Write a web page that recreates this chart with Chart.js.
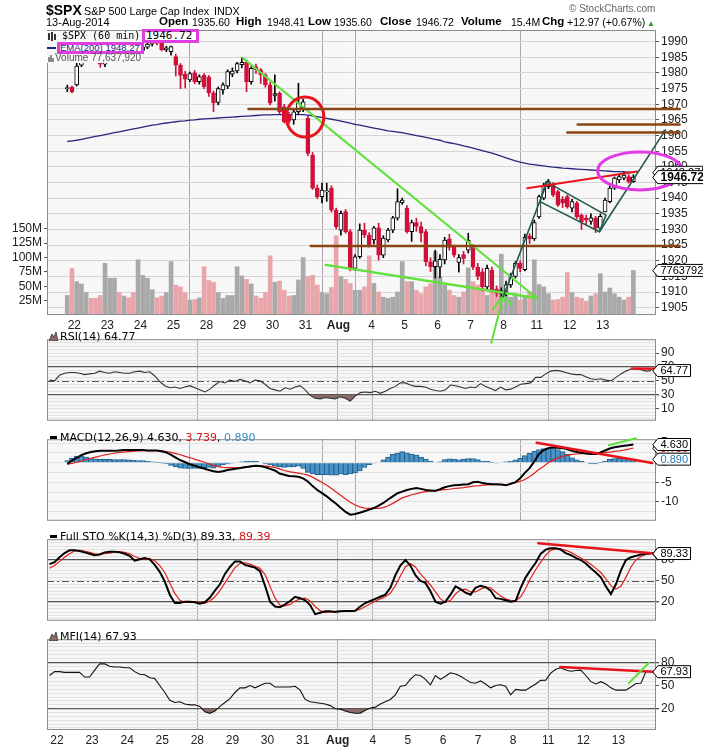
<!DOCTYPE html>
<html><head><meta charset="utf-8">
<script src="https://cdn.jsdelivr.net/npm/chart.js@4.4.1/dist/chart.umd.min.js"></script>
<style>
html,body{margin:0;padding:0;background:#fff;width:703px;height:748px;overflow:hidden;}
canvas{position:absolute;left:0;}
.t{position:absolute;white-space:nowrap;font-family:Arial,"Liberation Sans",sans-serif;line-height:11px;font-size:10.5px;color:#000;}
.b{font-weight:bold;font-size:11.5px;}
.d{position:absolute;white-space:nowrap;font-family:"DejaVu Sans",sans-serif;font-size:11px;line-height:11px;color:#000;}
</style></head><body>
<canvas id="cRsi" width="703" height="100" style="top:330px"></canvas>
<canvas id="cMacd" width="703" height="100" style="top:430px"></canvas>
<canvas id="cSto" width="703" height="100" style="top:530px"></canvas>
<canvas id="cMfi" width="703" height="118" style="top:630px"></canvas>
<canvas id="cMain" width="703" height="345" style="top:0px"></canvas>

<div class="t" style="left:46px;top:3px;font-size:14px;line-height:14px;font-weight:bold;">$SPX</div>
<div class="t" style="left:84px;top:6px;font-size:10.8px;">S&amp;P 500 Large Cap Index</div>
<div class="t" style="left:214px;top:6px;font-size:10.8px;">INDX</div>
<div class="t" style="left:569px;top:3px;font-size:10px;color:#666;">© StockCharts.com</div>
<div class="t" style="left:46px;top:17px;font-size:11px;">13-Aug-2014</div>
<div class="t b" style="left:159px;top:16px;">Open</div><div class="t" style="left:192px;top:17px;">1935.60</div>
<div class="t b" style="left:236px;top:16px;">High</div><div class="t" style="left:267px;top:17px;">1948.41</div>
<div class="t b" style="left:308px;top:16px;">Low</div><div class="t" style="left:334px;top:17px;">1935.60</div>
<div class="t b" style="left:380px;top:16px;">Close</div><div class="t" style="left:416px;top:17px;">1946.72</div>
<div class="t b" style="left:461px;top:16px;">Volume</div><div class="t" style="left:511px;top:17px;">15.4M</div>
<div class="t b" style="left:542px;top:16px;">Chg</div><div class="t" style="left:567px;top:17px;">+12.97 (+0.67%)</div>
<div class="t" style="left:647px;top:18px;font-size:8px;color:#2a9a2a;">▲</div>

<!-- main legend -->
<div style="position:absolute;left:47px;top:31px;width:96px;height:32px;background:#f7f7f7;"></div>
<svg style="position:absolute;left:48px;top:32px" width="9" height="9"><path d="M1 1v7M4 0v9M7 2v6" stroke="#000" stroke-width="1.6"/></svg>
<div class="t" style="left:62px;top:31px;font-family:'DejaVu Sans Mono',monospace;font-size:10px;line-height:10px;">$SPX (60 min)</div>
<div style="position:absolute;left:142px;top:29px;width:57px;height:14px;box-sizing:border-box;border:3px solid #e13ee1;background:#fff;"></div>
<div class="t" style="left:146px;top:31px;font-family:'DejaVu Sans Mono',monospace;font-size:11px;line-height:10px;">1946.72</div>
<div style="position:absolute;left:47px;top:47px;width:9px;height:2px;background:#22227a;"></div>
<div style="position:absolute;left:57px;top:42px;width:87px;height:12px;box-sizing:border-box;border:3px solid #e13ee1;background:#fff;"></div>
<div class="t" style="left:60px;top:43px;font-size:9.5px;line-height:10px;color:#22227a;">EMA(200) 1948.27</div>
<svg style="position:absolute;left:48px;top:54px" width="6" height="8"><path d="M1 3v5M3 1v7M5 4v4" stroke="#666" stroke-width="1.5"/></svg>
<div class="t" style="left:55px;top:53px;font-size:10px;line-height:10px;color:#555;">Volume 77,637,920</div>

<!-- panel legends -->
<svg style="position:absolute;left:49px;top:332px" width="9" height="9"><path d="M0 9L3 2L5 5L7 0L9 9Z" fill="#8c6a66" stroke="#333" stroke-width="0.8"/></svg>
<div class="d" style="left:60px;top:331px;">RSI(14) 64.77</div>
<div style="position:absolute;left:50px;top:436px;width:7px;height:3px;background:#000;"></div>
<div class="d" style="left:60px;top:432px;">MACD(12,26,9) 4.630, <span style="color:#d8141b">3.739</span>, <span style="color:#3a8ac0">0.890</span></div>
<div style="position:absolute;left:50px;top:535px;width:7px;height:3px;background:#000;"></div>
<div class="d" style="left:60px;top:531px;">Full STO %K(14,3) %D(3) 89.33, <span style="color:#d8141b">89.39</span></div>
<svg style="position:absolute;left:49px;top:632px" width="9" height="9"><path d="M0 9L3 2L5 5L7 0L9 9Z" fill="#8c6a66" stroke="#333" stroke-width="0.8"/></svg>
<div class="d" style="left:60px;top:631px;">MFI(14) 67.93</div>

<script>
// ---------------- data ----------------
const dayLabels = ['22','23','24','25','28','29','30','31','Aug','4','5','6','7','8','11','12','13'];
const dayStartBar = [2,9,16,23,30,37,44,51,58,65,72,79,86,93,100,107,114];
const gridDays = ['28','Aug','4','11'];

const openP = [1975.0,1975.4,1976.2,1982.5,1984.6,1985.6,1985.0,1984.2,1982.8,
 1984.5,1986.0,1987.2,1986.4,1987.0,1986.6,1986.2,
 1987.2,1988.2,1989.2,1989.8,1989.5,1987.3,1986.8,
 1985.2,1982.5,1979.6,1977.8,1980.0,1977.2,1979.2,
 1978.7,1973.6,1970.6,1974.6,1975.8,1979.6,1980.6,
 1982.6,1983.4,1977.2,1982.0,1981.0,1979.4,1976.2,
 1972.8,1973.5,1969.2,1966.8,1965.0,1967.6,1968.8,
 1965.5,1953.8,1943.2,1940.5,1942.0,1943.2,1936.2,
 1929.8,1935.7,1929.3,1917.6,1921.3,1929.8,1928.2,
 1926.7,1930.5,1921.8,1926.7,1929.8,1933.6,1938.6,
 1936.8,1929.3,1932.2,1930.9,1929.3,1919.7,1918.1,
 1918.0,1920.3,1927.0,1924.3,1919.5,1922.0,1923.4,
 1924.5,1918.0,1916.5,1911.7,1917.0,1911.0,1909.6,
 1910.2,1912.3,1915.0,1919.3,1917.2,1928.0,1927.0,
 1934.0,1940.0,1943.7,1944.2,1942.1,1939.6,1940.5,
 1936.8,1938.4,1934.6,1933.6,1932.6,1933.7,1930.4,
 1935.6,1938.9,1943.2,1945.8,1946.4,1946.9,1945.3];
const highP = [1976.1,1975.8,1983.6,1985.5,1986.4,1986.2,1986.0,1984.6,1983.6,
 1986.5,1987.6,1987.8,1987.4,1987.9,1987.5,1987.3,
 1988.6,1989.8,1990.8,1991.0,1990.2,1988.5,1988.6,
 1986.0,1983.0,1980.5,1980.3,1980.8,1979.4,1979.8,
 1979.2,1974.2,1975.5,1976.8,1981.0,1981.6,1983.4,
 1984.8,1983.9,1982.0,1982.8,1981.4,1979.8,1977.0,
 1979.4,1974.0,1970.0,1967.4,1968.2,1976.7,1971.6,
 1966.2,1954.6,1944.2,1944.8,1944.8,1944.0,1936.8,
 1936.0,1936.4,1930.0,1922.0,1931.8,1932.0,1929.0,
 1931.0,1932.0,1928.0,1930.4,1934.2,1943.0,1940.0,
 1937.6,1933.0,1933.6,1932.4,1930.0,1921.0,1923.4,
 1922.0,1927.5,1928.5,1925.0,1922.0,1923.0,1928.8,
 1925.2,1919.2,1917.5,1918.6,1918.0,1912.0,1911.4,
 1913.5,1916.0,1919.8,1920.0,1928.5,1928.7,1933.0,
 1941.0,1944.8,1946.0,1945.0,1942.6,1940.5,1941.0,
 1939.6,1939.0,1935.0,1934.6,1935.0,1934.2,1935.0,
 1940.0,1944.0,1946.8,1947.5,1948.41,1947.5,1947.5];
const lowP = [1974.0,1973.6,1975.8,1982.0,1983.9,1984.4,1983.6,1981.8,1982.0,
 1984.0,1985.4,1985.9,1985.8,1986.2,1985.7,1985.9,
 1986.8,1987.7,1988.6,1988.9,1987.0,1986.8,1985.7,
 1979.0,1975.0,1975.2,1977.2,1976.5,1976.4,1975.0,
 1972.5,1967.6,1969.8,1973.2,1975.0,1978.8,1980.0,
 1981.6,1974.0,1976.4,1979.8,1976.6,1975.4,1969.8,
 1971.0,1967.0,1964.0,1963.8,1963.6,1966.8,1967.6,
 1953.6,1942.8,1939.8,1938.5,1939.0,1935.6,1930.2,
 1928.2,1928.8,1916.8,1916.9,1920.8,1927.4,1924.4,
 1925.4,1920.2,1921.0,1926.0,1929.0,1933.0,1938.0,
 1928.8,1926.2,1929.4,1926.0,1918.4,1916.6,1914.5,
 1914.6,1919.0,1923.4,1921.2,1916.4,1919.0,1922.5,
 1917.2,1914.0,1910.4,1911.0,1910.0,1908.6,1907.9,
 1908.8,1911.5,1914.5,1916.5,1916.8,1925.5,1926.5,
 1933.5,1939.5,1943.0,1940.5,1937.4,1937.0,1936.8,
 1935.6,1933.5,1930.0,1931.5,1931.6,1929.0,1929.6,
 1935.6,1938.5,1942.8,1945.0,1945.8,1944.8,1945.0];
const closeP = [1975.2,1974.0,1982.2,1984.6,1985.6,1985.0,1984.2,1982.8,1983.3,
 1986.0,1987.2,1986.4,1987.0,1986.6,1986.2,1987.0,
 1988.2,1989.2,1989.8,1989.5,1987.3,1988.0,1988.4,
 1982.5,1979.2,1978.0,1979.8,1977.2,1978.8,1975.6,
 1973.6,1970.4,1975.0,1976.2,1980.4,1980.6,1983.0,
 1983.4,1977.2,1981.5,1981.0,1979.4,1976.2,1970.3,
 1973.4,1967.6,1964.4,1964.6,1967.6,1970.4,1970.8,
 1954.3,1943.2,1940.5,1942.6,1942.3,1936.2,1930.9,
 1935.2,1929.3,1917.6,1921.3,1929.8,1928.2,1925.0,
 1930.5,1921.8,1927.3,1929.8,1933.7,1938.9,1939.4,
 1929.3,1932.2,1931.0,1928.8,1919.7,1918.1,1920.0,
 1920.5,1926.6,1924.3,1921.8,1921.0,1920.8,1926.6,
 1918.0,1915.0,1911.7,1917.6,1910.5,1909.7,1910.4,
 1912.3,1915.0,1919.2,1917.6,1927.5,1927.0,1932.2,
 1940.5,1944.2,1945.3,1941.0,1937.8,1938.4,1937.3,
 1938.9,1934.0,1932.5,1933.0,1933.7,1930.4,1934.2,
 1939.4,1943.2,1946.4,1946.9,1947.4,1945.3,1946.72];
const volumeM = [34,81,58,54,39,29,29,34,90,64,64,39,33,30,39,96,69,64,44,30,
 33,39,93,52,49,39,26,27,30,84,60,57,39,29,34,34,84,68,62,54,
 33,29,39,103,57,59,43,33,34,61,100,67,69,52,39,37,48,138,67,62,
 55,43,43,49,103,55,40,31,29,31,40,93,58,58,43,37,49,54,110,66,
 52,43,34,31,40,82,58,52,46,34,43,40,106,40,31,37,26,31,40,96,
 53,49,37,26,27,31,74,39,31,29,24,33,37,72,40,47,37,31,26,31,77.6];
const ema200 = [1958.1,1958.3,1958.5,1958.8,1959.1,1959.4,1959.7,1960.0,1960.3,1960.6,
 1960.9,1961.2,1961.5,1961.8,1962.1,1962.4,1962.7,1963.0,1963.3,1963.5,
 1963.8,1964.0,1964.2,1964.4,1964.6,1964.7,1964.9,1965.0,1965.2,1965.3,
 1965.4,1965.5,1965.6,1965.7,1965.8,1965.9,1966.0,1966.1,1966.2,1966.3,
 1966.4,1966.5,1966.6,1966.6,1966.7,1966.7,1966.7,1966.7,1966.7,1966.7,
 1966.7,1966.5,1966.3,1966.0,1965.8,1965.5,1965.2,1964.9,1964.6,1964.3,
 1964.0,1963.6,1963.3,1963.0,1962.7,1962.4,1962.1,1961.8,1961.5,1961.3,
 1961.1,1960.9,1960.6,1960.3,1960.0,1959.7,1959.4,1959.1,1958.8,1958.5,
 1958.0,1957.7,1957.4,1957.1,1956.7,1956.4,1956.0,1955.6,1955.2,1954.8,
 1954.4,1953.9,1953.4,1952.9,1952.4,1951.9,1951.5,1951.2,1950.9,1950.7,
 1950.5,1950.3,1950.1,1949.9,1949.8,1949.6,1949.5,1949.4,1949.3,1949.2,
 1949.1,1949.0,1948.9,1948.8,1948.7,1948.6,1948.5,1948.45,1948.4,1948.35,1948.27];
const rsi14 = [51,50,58,61,62,62,61,59,60,61,64,62,61,63,62,61,61,63,64,62,
 63,57,49,43,40,41,39,41,43,40,37,34,38,44,49,47,51,49,52,50,
 47,51,50,45,39,37,35,40,38,41,43,37,29,25,24,26,25,24,27,25,
 21,28,33,34,33,35,32,35,39,42,47,47,44,42,42,41,38,36,35,37,
 44,43,41,39,41,40,46,42,39,36,41,37,38,41,45,46,47,55,55,60,
 64,65,64,62,60,59,59,56,53,52,53,51,50,55,60,64,67,67,66,64,64.77];
const macdLine = [-0.3,0.5,1.2,1.9,2.4,2.7,2.9,3.0,3.0,3.0,
 3.0,3.1,3.2,3.2,3.2,3.2,3.2,3.1,3.1,3.1,
 2.9,2.6,2.0,1.3,0.6,0.1,-0.4,-0.8,-1.2,-1.5,
 -1.9,-2.2,-2.4,-2.2,-1.9,-1.7,-1.5,-1.3,-1.1,-0.9,
 -0.8,-0.9,-1.2,-1.6,-2.0,-2.8,-3.1,-3.4,-3.5,-3.6,
 -4.0,-4.8,-6.0,-7.0,-7.8,-8.6,-9.6,-10.5,-11.6,-12.6,
 -13.3,-13.1,-12.8,-12.4,-12.0,-11.6,-11.0,-10.3,-9.4,-8.6,
 -7.8,-7.4,-7.0,-6.7,-6.5,-6.7,-7.0,-7.1,-7.2,-6.8,
 -6.3,-6.0,-5.8,-5.7,-5.6,-5.5,-5.0,-4.9,-5.2,-5.4,
 -5.5,-5.5,-5.6,-5.8,-5.4,-5.0,-4.0,-2.6,-1.4,0.3,
 2.2,3.2,3.7,3.9,3.8,3.7,3.4,3.0,2.7,2.5,
 2.3,2.2,2.2,2.6,3.1,3.6,3.9,4.1,4.3,4.45,4.63];
const macdSignal = [-0.4,-0.2,0.1,0.4,0.8,1.1,1.4,1.7,2.0,2.2,
 2.4,2.6,2.7,2.8,2.9,3.0,3.05,3.05,3.05,3.05,
 3.0,2.8,2.6,2.3,2.0,1.6,1.25,0.9,0.5,0.1,
 -0.3,-0.7,-1.0,-1.2,-1.3,-1.3,-1.25,-1.2,-1.1,-1.0,
 -0.9,-0.85,-0.9,-1.0,-1.2,-1.6,-2.0,-2.3,-2.5,-2.7,
 -2.9,-3.2,-3.7,-4.4,-5.1,-5.8,-6.6,-7.5,-8.4,-9.3,
 -10.1,-10.8,-11.3,-11.6,-11.7,-11.7,-11.7,-11.5,-11.0,-10.4,
 -9.7,-9.0,-8.6,-8.2,-7.9,-7.6,-7.4,-7.3,-7.2,-7.0,
 -6.9,-6.8,-6.6,-6.5,-6.4,-6.2,-6.0,-5.9,-5.8,-5.7,
 -5.6,-5.6,-5.6,-5.7,-5.4,-5.1,-4.8,-4.3,-3.6,-2.7,
 -1.7,-0.9,0.0,0.7,1.2,1.6,1.9,2.1,2.2,2.3,
 2.4,2.4,2.45,2.5,2.55,2.7,2.85,3.0,3.2,3.45,3.739];
const macdHist = [0.55,1.1,1.65,1.65,1.4,1.1,1.0,0.9,0.85,0.85,
 0.75,0.75,0.75,0.7,0.6,0.55,0.5,0.35,0.2,0.07,
 -0.07,-0.3,-0.7,-1.1,-1.4,-1.5,-1.5,-1.5,-1.45,-1.3,
 -1.2,-1.4,-1.0,-0.55,-0.3,-0.15,0,0.2,0.35,0.4,
 0.3,0,-0.3,-0.55,-0.9,-1.1,-1.2,-1.1,-1.1,-0.9,
 -1.5,-2.5,-2.9,-3.1,-3.1,-3.1,-3.2,-3.2,-2.9,-3.05,
 -2.9,-2.6,-2.1,-1.25,-0.5,-0.15,0,0.7,1.4,2.1,
 2.5,2.8,2.5,2.15,1.95,1.4,0.9,0.4,0,0.2,
 0.75,1.0,0.9,0.7,0.9,1.05,1.05,0.75,0.4,0.3,
 0.07,-0.15,0,0.2,0.35,0.7,1.1,1.8,2.35,2.9,
 3.35,3.6,3.8,3.75,3.35,2.8,2.1,1.25,0.7,0.3,
 0,-0.3,-0.3,0.07,0.4,0.85,1.05,1.1,1.05,0.9,0.89];
const stoK = [74,77,84,90,94,94,93,91,89,87,88,91,92,92,91,89,86,79,81,83,
 81,73,63,49,30,18,18,20,20,19,17,19,26,36,45,60,70,78,78,73,
 71,69,64,43,20,13,12,16,21,27,25,22,15,2,4,6,6,5,6,6.5,
 6.5,7,13,18,21,24,27,30,40,58,72,80,72,58,50,47,35,20,17,20,
 30,42,38,33,30,40,43,41,36,25,24,22,20,21,40,55,66,76,89,95,
 97,97,95,90,87,83,80,75,68,62,55,42,31,45,65,80,84,86,88,89,89.33];
const stoD = [68,72,78,84,89,93,94,93,91,89,88,89,90,92,92,91,89,85,82,81,
 82,79,72,62,47,32,22,19,19,20,19,18,21,27,36,47,58,69,75,76,
 74,71,68,59,42,25,15,14,16,21,24,25,21,13,7,4,5,6,6,6,
 6.5,7,9,13,17,21,24,27,32,43,57,70,75,70,60,52,44,34,24,19,
 22,31,37,38,34,34,38,41,40,34,28,24,22,21,27,39,54,66,77,87,
 94,96,96,94,91,87,83,79,74,68,62,53,43,38,42,55,70,80,85,88,89.39];
const mfi14 = [63,68,68,67,67,67,67,61,61,70,78,78,75,74,74,73,73,68,64.5,64,
 60,59,50,41,31,28,29,26,25,25,23,16,14,17,23,28,33,41,47,47,
 50,47,50,53,53,48,48,48,48,49,44,32,29,28,27,26,24,20,19.4,17,
 15,14,14,18,21,22,26,29,32,38,49,50,58,64,63,58,51,63,58,62,
 66.5,65,62,58,54,53,56,52,47,50,51,49,38,45,44,44,48,52,56.7,57,
 66,71,73,70,68.5,69.5,70,63,55,52,55,52,47,44,44,44,48,52.7,53,68,67.93];

const priceTicks = [1905,1910,1915,1920,1925,1930,1935,1940,1945,1950,1955,1960,1965,1970,1975,1980,1985,1990];
const volTicks = [25,50,75,100,125,150];
const rsiTickLabels = [10,30,50,70,90];
const stoTickLabels = [20,50,80];
const macdTickLabels = [-10,-5,0,5];

// hand-drawn annotations (bar index, value)
const mainAnnotations = [
 {pts:[[37.2,1984.8],[99.5,1908.1]], color:'#5fe03a', w:2},
 {pts:[[54.8,1918.7],[99.5,1908.1]], color:'#5fe03a', w:2.5},
 {pts:[[89.9,1893.8],[92.4,1908.8]], color:'#5fe03a', w:2},
 {pts:[[90.1,1904.3],[92.4,1908.8],[94.1,1905.9]], color:'#5fe03a', w:2},
 {ellipse:true, x:50.4, y:1965.9, rx:3.99, ry:6.4, color:'#e8141b', w:3},
 {pts:[[38.4,1968.5],[129.8,1968.5]], color:'#8b4513', w:2.5},
 {pts:[[108.2,1963.5],[129.8,1963.5]], color:'#8b4513', w:2.5},
 {pts:[[106.0,1961.0],[129.8,1961.0]], color:'#8b4513', w:2.5},
 {pts:[[51.6,1924.7],[129.8,1924.7]], color:'#8b4513', w:2.5},
 {pts:[[92.4,1908.5],[101.9,1945.8]], color:'#1f5a4c', w:1.6},
 {pts:[[101.5,1945.3],[114.2,1934.6],[112.8,1929.3],[100.2,1938.9],[101.5,1945.3]], color:'#1f5a4c', w:1.6},
 {pts:[[112.8,1929.3],[126.8,1961.8]], color:'#1f5a4c', w:1.6},
 {pts:[[97.5,1943.2],[120.8,1948.5]], color:'#e8141b', w:2},
 {ellipse:true, x:121.4, y:1948.7, rx:8.98, ry:6.07, color:'#e33be3', w:3}
];
const rsiAnnotations = [{pts:[[116.2,67.8],[121.6,67.3]], color:'#e8141b', w:2.5}];
const macdAnnotations = [
 {pts:[[99.5,5.1],[124.0,-0.1]], color:'#e8141b', w:2.5},
 {pts:[[114.8,4.45],[120.5,6.2]], color:'#5fe03a', w:2}
];
const stoAnnotations = [{pts:[[97.5,104.2],[122.0,88.6]], color:'#e8141b', w:2.5}];
const mfiAnnotations = [
 {pts:[[101.9,74.1],[123.4,67.0]], color:'#e8141b', w:2.5},
 {pts:[[115.6,53.3],[119.6,79.5]], color:'#5fe03a', w:2}
];

// ---------------- rendering ----------------
Chart.defaults.font.family = 'Arial, "Liberation Sans", sans-serif';
const idx = closeP.map((_, i) => i);
const isUp = i => closeP[i] >= openP[i];
const RED = '#d0103a';
const pts = arr => idx.map(i => ({x: i, y: arr[i]}));

const deco = {
  id: 'deco',
  beforeDraw(chart, args, o) {
    const {ctx, chartArea: a} = chart;
    ctx.save(); ctx.fillStyle = '#f7f7f7';
    ctx.fillRect(a.left, a.top, a.right - a.left, a.bottom - a.top); ctx.restore();
  },
  beforeDatasetsDraw(chart, args, o) {
    const {ctx, chartArea: a} = chart;
    (o.refs || []).forEach(r => {
      const y = Math.round(chart.scales.y.getPixelForValue(r.v)) + 0.5;
      ctx.save(); ctx.strokeStyle = r.color; ctx.lineWidth = r.w; ctx.setLineDash(r.dash || []);
      ctx.beginPath(); ctx.moveTo(a.left, y); ctx.lineTo(a.right, y); ctx.stroke(); ctx.restore();
    });
  },
  afterDraw(chart, args, o) {
    const {ctx, chartArea: a} = chart;
    const xs = chart.scales.x;
    ctx.save();
    ctx.strokeStyle = '#8c8c8c'; ctx.lineWidth = 1;
    ctx.strokeRect(a.left + 0.5, a.top + 0.5, a.right - a.left - 1, a.bottom - a.top - 1);
    (o.shapes || []).forEach(s => {
      const ys = chart.scales[s.axis || 'y'];
      ctx.strokeStyle = s.color; ctx.lineWidth = s.w; ctx.lineCap = 'round'; ctx.lineJoin = 'round';
      ctx.beginPath();
      if (s.ellipse) {
        const cx = xs.getPixelForValue(s.x), cy = ys.getPixelForValue(s.y);
        const rx = Math.abs(xs.getPixelForValue(s.x + s.rx) - cx), ry = Math.abs(ys.getPixelForValue(s.y + s.ry) - cy);
        ctx.ellipse(cx, cy, rx, ry, 0, 0, Math.PI * 2);
      } else {
        s.pts.forEach((p, k) => {
          const px = xs.getPixelForValue(p[0]), py = ys.getPixelForValue(p[1]);
          if (k) ctx.lineTo(px, py); else ctx.moveTo(px, py);
        });
      }
      ctx.stroke();
    });
    (o.tags || []).forEach(t => {
      const y = chart.scales[t.axis || 'y'].getPixelForValue(t.v);
      const x0 = a.right + 2;
      ctx.font = (t.bold ? 'bold 12px ' : '11px ') + 'Arial, "Liberation Sans", sans-serif';
      const w = ctx.measureText(t.text).width + 5, h = t.bold ? 13 : 12;
      ctx.beginPath();
      ctx.moveTo(x0 - 5, y); ctx.lineTo(x0, y - h / 2); ctx.lineTo(x0 + w, y - h / 2);
      ctx.lineTo(x0 + w, y + h / 2); ctx.lineTo(x0, y + h / 2); ctx.closePath();
      ctx.fillStyle = '#fff'; ctx.fill(); ctx.strokeStyle = '#000'; ctx.lineWidth = 1; ctx.stroke();
      ctx.fillStyle = t.color || '#000'; ctx.textBaseline = 'middle'; ctx.textAlign = 'left';
      ctx.fillText(t.text, x0 + 2.5, y + 0.5);
    });
    ctx.restore();
  }
};

function xScale(showLabels, h) {
  return {
    type: 'linear', min: -0.5, max: 121,
    afterBuildTicks: s => { s.ticks = dayStartBar.map(b => ({value: b - 0.5})); },
    ticks: {
      display: showLabels, autoSkip: false, maxRotation: 0, minRotation: 0, padding: 3, color: '#222',
      callback: (v, i) => dayLabels[i],
      font: c => ({size: 12, weight: dayLabels[c.index] === 'Aug' ? 'bold' : 'normal'})
    },
    grid: { drawTicks: false, color: c => gridDays.includes(dayLabels[c.index]) ? '#a9a9a9' : 'rgba(0,0,0,0)' },
    border: {display: false},
    afterFit: s => { s.height = h; }
  };
}
function oscY(min, max, gridVals, labels, dark) {
  return {
    type: 'linear', position: 'right', min: min, max: max,
    afterBuildTicks: s => { s.ticks = gridVals.map(v => ({value: v})); },
    ticks: { autoSkip: false, color: '#222', font: {size: 12}, padding: 2,
      callback: v => labels.includes(v) ? String(v) : '' },
    grid: {
      color: c => dark.includes(c.tick.value) ? '#555' : '#e2e2e2',
      lineWidth: c => dark.includes(c.tick.value) ? 1.3 : 1,
      tickLength: 3,
      tickColor: c => labels.includes(c.tick.value) ? '#555' : 'rgba(0,0,0,0)'
    },
    border: {display: false},
    afterFit: s => { s.width = 47; }
  };
}
const oscGrid = []; for (let v = -5; v <= 105; v += 5) oscGrid.push(v);
const base = { responsive: false, animation: false, events: [] };
const noLegend = { legend: {display: false}, tooltip: {enabled: false} };

// main price + volume
new Chart(document.getElementById('cMain'), {
  type: 'bar',
  data: { datasets: [
    { type: 'bar', data: idx.map(i => ({x: i, y: [openP[i], closeP[i]]})), yAxisID: 'y',
      backgroundColor: idx.map(i => isUp(i) ? '#ffffff' : RED),
      borderColor: idx.map(i => isUp(i) ? '#000' : RED),
      borderWidth: 1, borderSkipped: false, barThickness: 4, grouped: false, minBarLength: 1, order: 1 },
    { type: 'bar', data: idx.map(i => ({x: i, y: [lowP[i], highP[i]]})), yAxisID: 'y',
      backgroundColor: idx.map(i => isUp(i) ? '#000' : RED), borderWidth: 0,
      barThickness: 1, grouped: false, order: 2 },
    { type: 'line', data: pts(ema200), yAxisID: 'y', borderColor: '#27277c', borderWidth: 1.3,
      pointRadius: 0, tension: 0, order: 3 },
    { type: 'bar', data: pts(volumeM), yAxisID: 'yv',
      backgroundColor: idx.map(i => isUp(i) ? '#a9a9a9' : '#e9a6aa'), borderWidth: 0,
      barThickness: 4, grouped: false, order: 4 }
  ]},
  options: { ...base,
    layout: { padding: {top: 30, left: 0, right: 0, bottom: 0}, autoPadding: false },
    scales: {
      x: xScale(true, 30),
      y: { type: 'linear', position: 'right', min: 1902.7, max: 1993.7,
        afterBuildTicks: s => { s.ticks = priceTicks.map(v => ({value: v})); },
        ticks: { autoSkip: false, color: '#222', font: {size: 12}, padding: 2, callback: v => String(v) },
        grid: { color: '#d6d6d6', tickLength: 3, tickColor: '#555' },
        border: {display: false}, afterFit: s => { s.width = 47; } },
      yv: { type: 'linear', position: 'left', min: 0, max: 496,
        afterBuildTicks: s => { s.ticks = volTicks.map(v => ({value: v})); },
        ticks: { autoSkip: false, color: '#222', font: {size: 12}, padding: 2, callback: v => v + 'M' },
        grid: { drawOnChartArea: false, tickLength: 3, color: '#555' },
        border: {display: false}, afterFit: s => { s.width = 47; } }
    },
    plugins: { ...noLegend, deco: { shapes: mainAnnotations, tags: [
      {axis: 'y', v: ema200[120], text: ema200[120].toFixed(2)},
      {axis: 'y', v: closeP[120], text: closeP[120].toFixed(2), bold: true},
      {axis: 'yv', v: volumeM[120], text: '7763792'} ] } }
  },
  plugins: [deco]
});

// RSI
new Chart(document.getElementById('cRsi'), {
  type: 'line',
  data: { datasets: [{ data: pts(rsi14), borderColor: '#333', borderWidth: 1.1, pointRadius: 0, tension: 0,
    fill: { target: {value: 30}, above: 'rgba(0,0,0,0)', below: '#8c6a66' } }] },
  options: { ...base,
    layout: { padding: {left: 47, top: 0, right: 0, bottom: 0}, autoPadding: false },
    scales: { x: xScale(false, 0), y: oscY(-7.6, 110, oscGrid, rsiTickLabels, [30, 70]) },
    plugins: { ...noLegend, deco: { refs: [{v: 50, color: '#555', w: 1, dash: [7, 3, 2, 3]}],
      shapes: rsiAnnotations, tags: [{v: rsi14[120], text: rsi14[120].toFixed(2)}] } }
  },
  plugins: [deco]
});

// MACD
new Chart(document.getElementById('cMacd'), {
  type: 'bar',
  data: { datasets: [
    { type: 'line', data: pts(macdLine), borderColor: '#000', borderWidth: 2, pointRadius: 0, tension: 0, order: 1 },
    { type: 'line', data: pts(macdSignal), borderColor: '#e0201b', borderWidth: 1.2, pointRadius: 0, tension: 0, order: 2 },
    { type: 'bar', data: pts(macdHist), backgroundColor: '#4a93c6', borderColor: '#22618f', borderWidth: 1,
      barThickness: 5, grouped: false, order: 3 }
  ]},
  options: { ...base,
    layout: { padding: {left: 47, top: 0, right: 0, bottom: 0}, autoPadding: false },
    scales: { x: xScale(false, 0), y: oscY(-14.85, 5.98, [-12.5, -10, -7.5, -5, -2.5, 0, 2.5, 5], macdTickLabels, []) },
    plugins: { ...noLegend, deco: { shapes: macdAnnotations, tags: [
      {v: macdSignal[120], text: macdSignal[120].toFixed(3), color: '#d8141b'},
      {v: macdHist[120], text: macdHist[120].toFixed(3), color: '#2a7ab5'},
      {v: macdLine[120], text: macdLine[120].toFixed(3)} ] } }
  },
  plugins: [deco]
});

// Full STO
new Chart(document.getElementById('cSto'), {
  type: 'line',
  data: { datasets: [
    { data: pts(stoK), borderColor: '#000', borderWidth: 2, pointRadius: 0, tension: 0, order: 1 },
    { data: pts(stoD), borderColor: '#e0201b', borderWidth: 1.2, pointRadius: 0, tension: 0, order: 2 }
  ]},
  options: { ...base,
    layout: { padding: {left: 47, top: 0, right: 0, bottom: 0}, autoPadding: false },
    scales: { x: xScale(false, 0), y: oscY(-7.6, 110, oscGrid, stoTickLabels, [20, 80]) },
    plugins: { ...noLegend, deco: { refs: [{v: 50, color: '#555', w: 1, dash: [7, 3, 2, 3]}],
      shapes: stoAnnotations, tags: [{v: stoD[120], text: stoD[120].toFixed(2)}, {v: stoK[120], text: stoK[120].toFixed(2)}] } }
  },
  plugins: [deco]
});

// MFI
new Chart(document.getElementById('cMfi'), {
  type: 'line',
  data: { datasets: [{ data: pts(mfi14), borderColor: '#111', borderWidth: 1.1, pointRadius: 0, tension: 0,
    fill: { target: {value: 20}, above: 'rgba(0,0,0,0)', below: '#8c6a66' } }] },
  options: { ...base,
    layout: { padding: {left: 47, top: 0, right: 0, bottom: 0}, autoPadding: false },
    scales: { x: xScale(true, 18), y: oscY(-7.6, 110, oscGrid, stoTickLabels, [20, 80]) },
    plugins: { ...noLegend, deco: { shapes: mfiAnnotations, tags: [{v: mfi14[120], text: mfi14[120].toFixed(2)}] } }
  },
  plugins: [deco]
});
</script>
</body></html>
